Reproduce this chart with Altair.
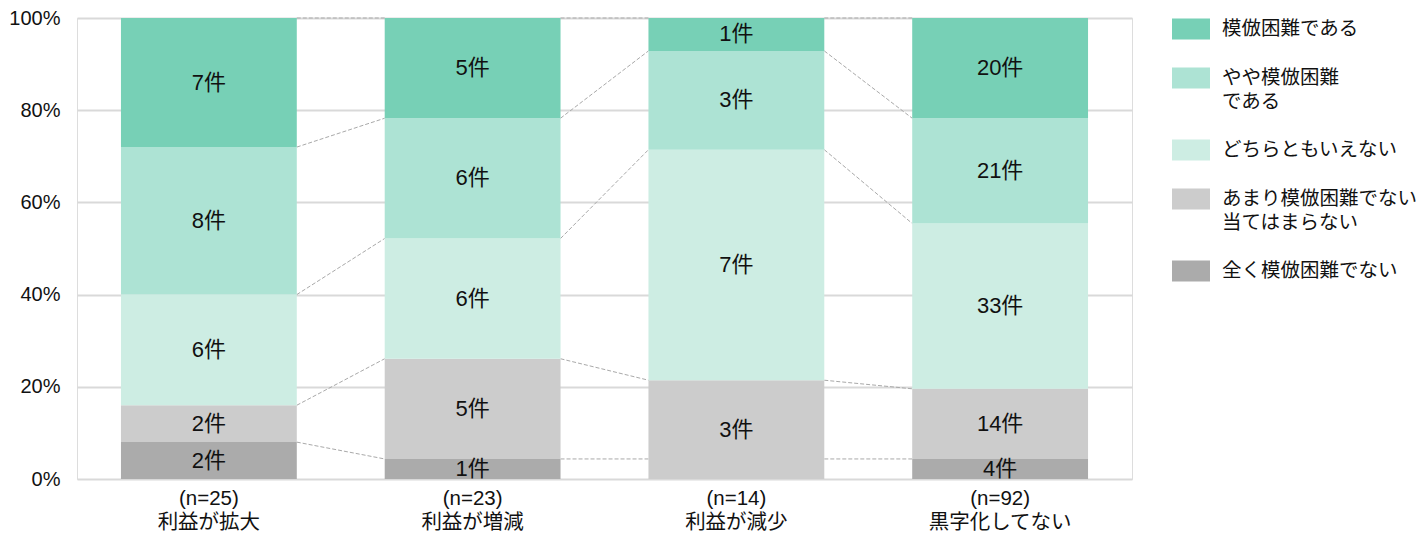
import altair as alt
import pandas as pd

# ---- data ----
categories = ["(n=25)\n利益が拡大", "(n=23)\n利益が増減", "(n=14)\n利益が減少", "(n=92)\n黒字化してない"]

# series, bottom of the bar first
series_names = [
    "全く模倣困難でない",
    "あまり模倣困難でない\n当てはまらない",
    "どちらともいえない",
    "やや模倣困難\nである",
    "模倣困難である",
]
series_colors = ["#ababab", "#cccccc", "#cdede3", "#ade3d4", "#77d0b6"]

zenku = [2, 1, 0, 4]
amari = [2, 5, 3, 14]
dochira = [6, 6, 7, 33]
yaya = [8, 6, 3, 21]
mohou = [7, 5, 1, 20]
counts = [zenku, amari, dochira, yaya, mohou]

# level of the lowest connector line at each bar (bar 3 has no bottom segment;
# the picture shows the line passing at its neighbours' level)
lowest_connector_level = [0.08, 0.0435, 0.0435, 0.0435]

FONT = "Liberation Sans, Noto Sans CJK JP"

# ---- build tables ----
rows = []
tops = {c: [] for c in categories}
for ci, cat in enumerate(categories):
    total = sum(s[ci] for s in counts)
    cum = 0
    for si, name in enumerate(series_names):
        v = counts[si][ci]
        y0 = cum / total
        cum += v
        y1 = cum / total
        tops[cat].append(y1)
        rows.append(dict(cat=cat, series=name, count=v, y0=y0, y1=y1,
                         mid=(y0 + y1) / 2, label=f"{v}件"))
bars = pd.DataFrame(rows)

conn = []
for ci in range(len(categories) - 1):
    a, b = categories[ci], categories[ci + 1]
    la = [lowest_connector_level[ci]] + tops[a][1:]
    lb = [lowest_connector_level[ci + 1]] + tops[b][1:]
    for ya, yb in zip(la, lb):
        conn.append(dict(frm=a, to=b, ya=ya, yb=yb))
conn = pd.DataFrame(conn)

legend_order = list(reversed(series_names))
legend_colors = list(reversed(series_colors))

xscale = alt.Scale(domain=categories, paddingInner=1 / 3, paddingOuter=1 / 6)
yscale = alt.Scale(domain=[0, 1], nice=False)

bar_layer = alt.Chart(bars).mark_bar().encode(
    x=alt.X("cat:N", scale=xscale, sort=categories, title=None,
            axis=alt.Axis(labelExpr="split(datum.label, '\\n')", labelAngle=0,
                          labelAlign="center", labelBaseline="top",
                          labelFontSize=20.5, labelLineHeight=24, labelPadding=9,
                          labelColor="#111111", labelFont=FONT,
                          ticks=False, domain=False, grid=False)),
    y=alt.Y("y0:Q", scale=yscale, title=None,
            axis=alt.Axis(values=[0, 0.2, 0.4, 0.6, 0.8, 1.0], format=".0%",
                          labelFontSize=20, labelPadding=17, labelColor="#111111",
                          labelFont=FONT, ticks=False, domain=False,
                          gridColor="#d9d9d9", gridWidth=2)),
    y2="y1:Q",
    color=alt.Color("series:N",
                    scale=alt.Scale(domain=legend_order, range=legend_colors),
                    legend=alt.Legend(title=None, orient="none",
                                      legendX=1095, legendY=-8,
                                      gridAlign="each",
                                      symbolType="M-1,-0.55H1V0.55H-1Z",
                                      symbolSize=1444, symbolStrokeWidth=0,
                                      symbolOpacity=1,
                                      labelOffset=12, labelFontSize=19.5,
                                      labelFont=FONT, labelColor="#111111",
                                      labelLimit=400,
                                      labelExpr="split(datum.label, '\\n')",
                                      rowPadding=19, padding=0)),
)

text_layer = alt.Chart(bars).transform_filter("datum.count > 0").mark_text(
    fontSize=22, font=FONT, color="#111111", baseline="middle"
).encode(
    x=alt.X("cat:N", scale=xscale, sort=categories, title=None),
    y=alt.Y("mid:Q", scale=yscale, title=None),
    text="label:N",
)

conn_layer = alt.Chart(conn).mark_rule(
    color="#a9a9a9", strokeWidth=1, strokeDash=[4, 2]
).encode(
    x=alt.X("frm:N", scale=xscale, sort=categories, bandPosition=1, title=None),
    x2=alt.X2("to:N", bandPosition=0),
    y=alt.Y("ya:Q", scale=yscale, title=None),
    y2="yb:Q",
)

chart = alt.layer(conn_layer, bar_layer, text_layer).properties(
    width=1055, height=461,
    autosize=alt.AutoSizeParams(type="none"),
    padding={"left": 77, "top": 18, "right": 293, "bottom": 65},
).configure_view(stroke=None).configure(
    background="white",
    style={"guide-label": {"lineHeight": 24}},
)

chart.save("out.html", embed_options={"renderer": "svg", "actions": False})
